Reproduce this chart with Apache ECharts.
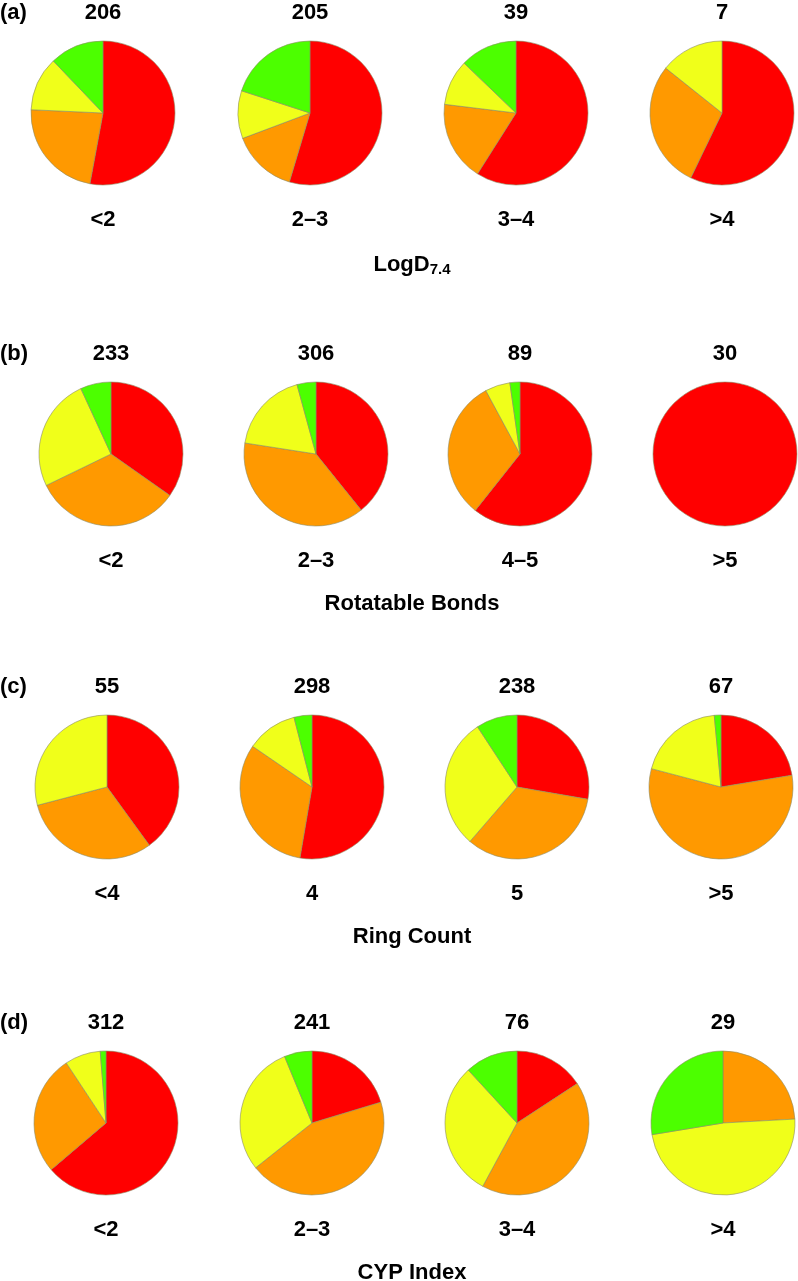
<!DOCTYPE html>
<html>
<head>
<meta charset="utf-8">
<script src="https://cdn.jsdelivr.net/npm/echarts@6/dist/echarts.min.js"></script>
<style>
  html, body { margin: 0; padding: 0; background: #fff; }
  #chart { width: 798px; height: 1281px; }
</style>
</head>
<body>
<div id="chart"></div>
<script>
// slice order in every pie: red, orange, yellow, green (clockwise from 12 o'clock)
const sliceNames = ['Red', 'Orange', 'Yellow', 'Green']
const sliceColors = ['#ff0000', '#ff9900', '#f0ff1a', '#4cff00']

const panelTags = ['(a)', '(b)', '(c)', '(d)']
const propertyNames = ['LogD', 'Rotatable Bonds', 'Ring Count', 'CYP Index']

const logdBins = ['<2', '2–3', '3–4', '>4']
const rotBondBins = ['<2', '2–3', '4–5', '>5']
const ringBins = ['<4', '4', '5', '>5']
const cypBins = ['<2', '2–3', '3–4', '>4']

const logdTotals = [206, 205, 39, 7]
const rotBondTotals = [233, 306, 89, 30]
const ringTotals = [55, 298, 238, 67]
const cypTotals = [312, 241, 76, 29]

const logdCounts = [[109, 47, 25, 25], [112, 30, 22, 41], [23, 7, 4, 5], [4, 2, 1, 0]]
const rotBondCounts = [[81, 77, 59, 16], [120, 117, 56, 13], [54, 28, 5, 2], [30, 0, 0, 0]]
const ringCounts = [[22, 17, 16, 0], [157, 95, 34, 12], [66, 80, 70, 22], [15, 38, 13, 1]]
const cypCounts = [[199, 84, 25, 4], [49, 106, 71, 15], [12, 32, 23, 9], [0, 7, 14, 8]]

const rows = [
  { bins: logdBins, totals: logdTotals, counts: logdCounts },
  { bins: rotBondBins, totals: rotBondTotals, counts: rotBondCounts },
  { bins: ringBins, totals: ringTotals, counts: ringCounts },
  { bins: cypBins, totals: cypTotals, counts: cypCounts }
]

// layout
const rowY = [113, 454, 787, 1123]
const colX = [
  [103, 310, 516, 722],
  [111, 316, 520, 725],
  [107, 312, 517, 721],
  [106, 312, 517, 723]
]
const pieRadius = 72
const titleX = 412
const font = '"Liberation Sans", Arial, sans-serif'
const textSize = 22

function boldText(x, y, text, size, align = 'center') {
  return {
    type: 'text',
    x,
    y,
    silent: true,
    style: {
      text,
      fill: '#000',
      font: `bold ${size}px ${font}`,
      align,
      verticalAlign: 'middle'
    }
  }
}

const series = []
const graphics = []

rows.forEach((row, r) => {
  const cy = rowY[r]
  graphics.push(boldText(0, cy - 100, panelTags[r], textSize, 'left'))
  if (r === 0) {
    graphics.push({
      type: 'text',
      x: titleX,
      y: cy + 152,
      silent: true,
      style: {
        text: '{m|LogD}{s|7.4}',
        align: 'center',
        verticalAlign: 'middle',
        rich: {
          m: { font: `bold ${textSize}px ${font}`, fill: '#000', lineHeight: 26 },
          s: { font: `bold 15px ${font}`, fill: '#000', lineHeight: 26, padding: [10, 0, 0, 0] }
        }
      }
    })
  } else {
    graphics.push(boldText(titleX, cy + 150, propertyNames[r], textSize))
  }

  row.bins.forEach((bin, c) => {
    const cx = colX[r][c]
    graphics.push(boldText(cx, cy - 100, String(row.totals[c]), textSize))
    graphics.push(boldText(cx, cy + 107, bin, textSize))
    series.push({
      type: 'pie',
      name: `${propertyNames[r]} ${bin}`,
      center: [cx, cy],
      radius: pieRadius,
      startAngle: 90,
      clockwise: true,
      silent: true,
      animation: false,
      label: { show: false },
      labelLine: { show: false },
      itemStyle: { borderColor: '#8c8c64', borderWidth: 0.6 },
      data: row.counts[c]
        .map((value, i) => ({ name: sliceNames[i], value, itemStyle: { color: sliceColors[i] } }))
        .filter((d) => d.value > 0)
    })
  })
})

const chart = echarts.init(document.getElementById('chart'))
chart.setOption({
  backgroundColor: '#ffffff',
  animation: false,
  series,
  graphic: graphics
})
</script>
</body>
</html>
